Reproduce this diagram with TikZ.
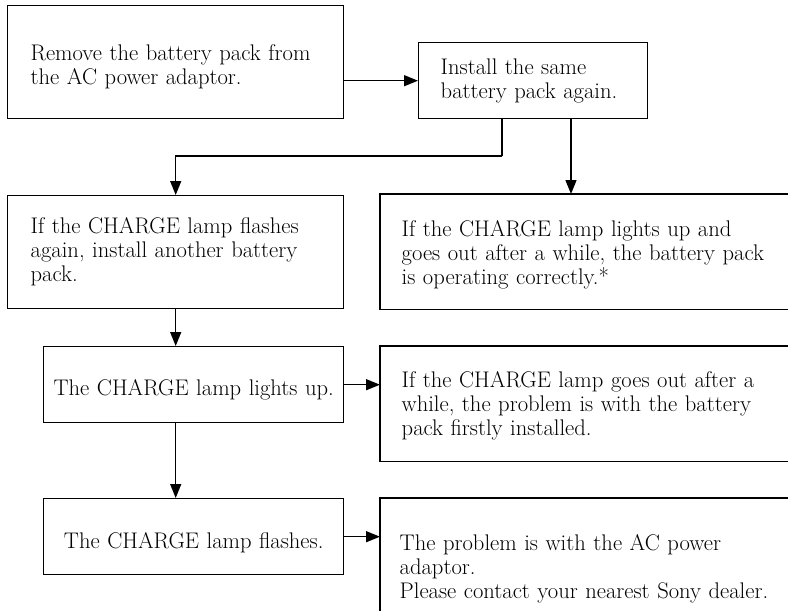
\documentclass[tikz,border=0pt]{standalone}
\usetikzlibrary{arrows.meta,calc}
\newcommand{\liftline}[1]{\rule{0pt}{#1}}
\tikzset{
  box/.style={line width=1.4pt, anchor=north west, align=left, inner xsep=24pt, inner ysep=0pt,
    font=\fontsize{22.6}{24}\selectfont},
  drawn/.style={box, draw},
  arr/.style={line width=1.4pt, -{Triangle[length=14pt,width=11pt]}},
  edge/.style={line width=1.4pt}
}
\begin{document}
\begin{tikzpicture}[x=1pt,y=-1pt]
\useasboundingbox (0,0) rectangle (788,611);
\node[drawn, minimum width=336pt, minimum height=113pt, text width=290pt, inner xsep=23pt] (b1) at (7,5)
  {\liftline{26pt}Remove the battery pack from\\the AC power adaptor.};
\node[drawn, minimum width=229pt, minimum height=76pt, text width=185pt, inner xsep=22pt] (b2) at (418,42)
  {Install the same\\battery pack again.};
\node[drawn, minimum width=336pt, minimum height=113pt, text width=290pt, inner xsep=23pt] (b3) at (7,195)
  {If the CHARGE lamp flashes\\again, install another battery\\pack.};
\node[box, minimum width=408pt, minimum height=114pt, text width=366pt, inner xsep=21pt] (b4) at (380,194)
  {\liftline{22pt}If the CHARGE lamp lights up and\\goes out after a while, the battery pack\\is operating correctly.*};
\node[drawn, minimum width=300pt, minimum height=76pt, text width=290pt, inner xsep=5pt, align=center] (b5) at (43,346)
  {\liftline{27pt}The CHARGE lamp lights up.};
\node[box, minimum width=408pt, minimum height=114pt, text width=366pt, inner xsep=21pt] (b6) at (380,346)
  {\liftline{21pt}If the CHARGE lamp goes out after a\\while, the problem is with the battery\\pack firstly installed.};
\node[drawn, minimum width=300pt, minimum height=76pt, text width=290pt, inner xsep=5pt, align=center] (b7) at (43,498)
  {\liftline{27pt}The CHARGE lamp flashes.};
\node[box, minimum width=408pt, minimum height=130pt, text width=370pt, inner xsep=19pt] (b8) at (380,498)
  {\liftline{26pt}The problem is with the AC power\\adaptor.\\Please contact your nearest Sony dealer.};
% open borders of the right boxes
\draw[edge] (b4.north east) -- (b4.north west) -- (b4.south west) -- (b4.south east);
\draw[edge] (b6.north east) -- (b6.north west) -- (b6.south west) -- (b6.south east);
\draw[edge] ([yshift=17pt]b8.south west) -- (b8.north west) -- (b8.north west -| b4.north east);
% connectors
\coordinate (j1) at (502,156);
\coordinate (j2) at (571,118);
\draw[arr] (b1.east |- b2.west) -- (b2.west);
\draw[edge] (b2.south -| j1) -- (j1);
\draw[arr] (j1) -| (b3.north);
\draw[arr] (j2) -- (j2 |- b4.north);
\draw[arr] (b3.south) -- (b3.south |- b5.north);
\draw[arr] (b3.south |- b5.south) -- (b3.south |- b7.north);
\draw[arr] (b5.east) -- (b5.east -| b6.west);
\draw[arr] (b7.east) -- (b7.east -| b8.west);
\end{tikzpicture}
\end{document}
